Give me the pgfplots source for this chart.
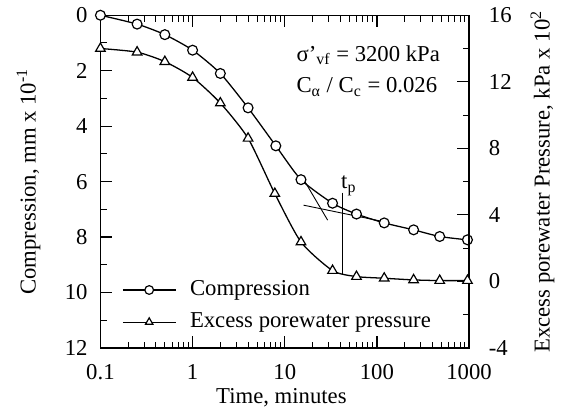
\documentclass[border=0pt]{standalone}
\usepackage{fontspec}
\setmainfont{Liberation Serif}
\usepackage{pgfplots}
\pgfplotsset{compat=1.18}

\begin{document}
\fontsize{11.5}{13.5}\selectfont
\begin{tikzpicture}
\pgfplotsset{
    every axis/.append style={
        scale only axis, width=186.7pt, height=168.5pt,
        xmode=log, xmin=0.1, xmax=1000,
        tick align=inside,
        major tick length=6pt, minor tick length=3.2pt,
        axis line style={line width=0.6pt},
        every tick/.style={line width=0.6pt, black},
        minor tick style={line width=0.5pt, black},
        clip=false,
    },
}
% left axis: compression (reversed)
\begin{axis}[
    y dir=reverse, ymin=0, ymax=12,
    ytick={0,2,4,6,8,10,12},
    yticklabels={0,2,4,6,8,10,12},
    minor y tick num=1,
    ytick pos=left,
    xtick={0.1,1,10,100,1000},
    xticklabels={0.1,1,10,100,1000},
    xtick pos=both,
    xticklabel style={yshift=-4.5pt},
    yticklabel style={xshift=-2.5pt},
    xlabel={Time, minutes},
    ylabel={Compression, mm x 10\textsuperscript{-1}},
    x label style={at={(axis description cs:0.491,-0.150)}, anchor=center},
    y label style={at={(axis description cs:-0.195,0.5)}, anchor=center, rotate=0},
]
\addplot[black, line width=0.65pt, smooth, tension=0.4, mark=*, mark size=2.5pt,
         mark options={fill=white, line width=0.6pt}] coordinates {
    (0.1,0) (0.25,0.32) (0.5,0.70) (1,1.26) (2,2.10) (4,3.34) (8,4.71)
    (15,5.93) (33,6.78) (60,7.17) (120,7.49) (250,7.74) (480,7.98) (960,8.10)
};
% construction lines for t_p
\addplot[black, line width=0.45pt] coordinates {(16.4,5.98) (29.2,7.39)};
\addplot[black, line width=0.45pt] coordinates {(16,6.85) (120,7.45)};
\addplot[black, line width=0.45pt] coordinates {(42.3,6.40) (42.3,9.37)};
\node[anchor=base west, inner sep=0pt] at (axis cs:40.6,6.25) {t\textsubscript{p}};
\end{axis}

% right axis: excess porewater pressure
\begin{axis}[
    axis x line=none,
    axis y line*=right,
    ymin=-4, ymax=16,
    ytick={-4,0,4,8,12,16},
    yticklabels={-4,0,4,8,12,16},
    yticklabel style={xshift=6pt},
    minor y tick num=1,
    ylabel={Excess porewater Pressure, kPa x 10\textsuperscript{2}},
    y label style={at={(axis description cs:1.199,0.5)}, anchor=center},
    legend style={draw=none, fill=none, at={(axis description cs:0.058,0.215)},
                  anchor=north west, row sep=3pt, inner sep=0pt,
                  nodes={inner sep=2pt},
                  /tikz/every odd column/.append style={column sep=5pt}},
    legend cell align={left},
    legend image code/.code={
        \draw[#1, line width=0.6pt] (0cm,0cm) -- (0.94cm,0cm);
        \draw[#1, line width=0.6pt, mark size=2.2pt] plot coordinates {(0.47cm,0cm)};
    },
]
\addlegendimage{black, mark=*, mark options={fill=white}}
\addlegendentry{Compression}
\addplot[black, line width=0.65pt, smooth, tension=0.4, mark=triangle*, mark size=2.8pt,
         mark options={fill=white, line width=0.6pt}] coordinates {
    (0.1,14.0) (0.25,13.78) (0.5,13.21) (1,12.26) (2,10.72) (4,8.6) (7.8,5.28)
    (15,2.37) (33,0.65) (60,0.29) (120,0.19) (250,0.09) (480,0.05) (960,0.05)
};
\addlegendentry{Excess porewater pressure}

\node[anchor=base west, inner sep=0pt] at (axis description cs:0.531,0.8614)
    {σ'\textsubscript{vf} = 3200 kPa};
\node[anchor=base west, inner sep=0pt] at (axis description cs:0.531,0.7665)
    {C\textsubscript{α} / C\textsubscript{c} = 0.026};

\coordinate (bbl) at (axis description cs:-0.2724,-0.1979);
\coordinate (btr) at (axis description cs:1.2331,1.0454);
\end{axis}
\path (bbl) rectangle (btr);
\end{tikzpicture}
\end{document}
